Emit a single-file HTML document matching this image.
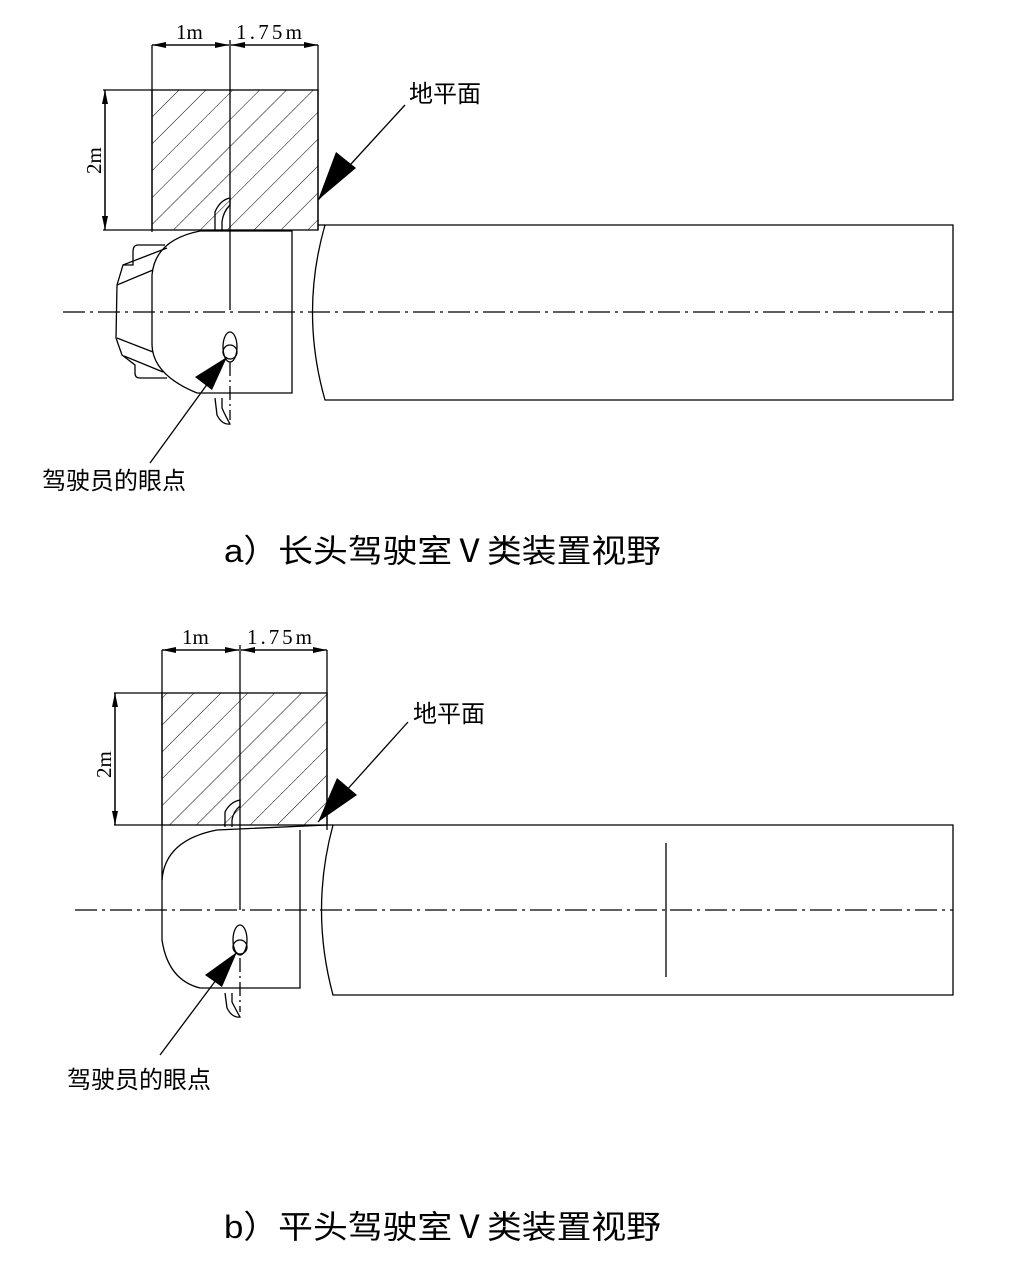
<!DOCTYPE html>
<html><head><meta charset="utf-8"><style>
html,body{margin:0;padding:0;background:#fff;}
svg{display:block;}
.t{font-family:"Liberation Serif","Noto Serif CJK SC",serif;}
.c{font-family:"Liberation Sans","Noto Sans CJK SC",sans-serif;}
</style></head><body>
<svg width="1018" height="1271" viewBox="0 0 1018 1271" xmlns="http://www.w3.org/2000/svg">
<defs>
<pattern id="h" patternUnits="userSpaceOnUse" width="19" height="19" patternTransform="rotate(45)">
<line x1="0" y1="0" x2="0" y2="19" stroke="#000" stroke-width="1"/>
</pattern>
<marker id="ar" markerWidth="14" markerHeight="6" refX="14" refY="3" orient="auto" markerUnits="userSpaceOnUse"><path d="M0,0 L14,3 L0,6 Z" fill="#000"/></marker>
</defs>
<g fill="none" stroke="#000" stroke-width="1.3">
<!-- ===== TOP ===== -->
<rect x="152" y="90" width="166" height="140" fill="url(#h)"/>
<line x1="152" y1="45" x2="152" y2="232"/>
<line x1="318" y1="45" x2="318" y2="230"/>
<line x1="230" y1="40" x2="230" y2="310"/>
<line x1="152" y1="45" x2="229" y2="45" marker-end="url(#ar)"/>
<line x1="229" y1="45" x2="152" y2="45" marker-end="url(#ar)"/>
<line x1="231" y1="45" x2="318" y2="45" marker-end="url(#ar)"/>
<line x1="318" y1="45" x2="231" y2="45" marker-end="url(#ar)"/>
<line x1="103" y1="90" x2="152" y2="90"/>
<line x1="103" y1="230" x2="152" y2="230"/>
<line x1="105" y1="90" x2="105" y2="230" marker-end="url(#ar)"/>
<line x1="105" y1="230" x2="105" y2="90" marker-end="url(#ar)"/>
<path d="M325,225 L953,225 L953,400 L325,400 Q300,312 325,225 Z"/>
<line x1="318" y1="225" x2="325" y2="225"/>
<path d="M200,231 L292,231 L292,393 L197,393 Q153,375 152,345 L152,275 Q155,240 200,231"/>
<path d="M165,245 L138,245 Q133,245 133,252 L133,265 L123,265 L117,285 L116,338 L122,355 L135,365 L135,373 Q135,378 140,378 L167,378"/>
<line x1="123" y1="265" x2="167" y2="248"/>
<line x1="117" y1="285" x2="153" y2="270"/>
<line x1="117" y1="338" x2="153" y2="352"/>
<line x1="124" y1="356" x2="163" y2="372"/>
<path d="M215,230 L215,212 Q220,200 230,198 L230,205 Q223,212 222,222 L222,230"/>
<path d="M215,398 L217,415 Q222,425 230,424 Q225,415 222,408 L222,398"/>
<ellipse cx="230" cy="347" rx="7" ry="15"/>
<circle cx="230" cy="352" r="7"/>
<line x1="230" y1="362" x2="230" y2="420" stroke-dasharray="14,4,2,4"/>
<line x1="63" y1="312" x2="953" y2="312" stroke-dasharray="22,5,3,5"/>
<line x1="405" y1="105" x2="318" y2="200"/>
<polygon points="318,200 336,152 356,168" fill="#000" stroke="none"/>
<line x1="150" y1="463" x2="227" y2="357"/>
<polygon points="227,357 212,390 195,377" fill="#000" stroke="none"/>

<!-- ===== BOTTOM ===== -->
<rect x="162" y="693" width="165" height="132" fill="url(#h)"/>
<line x1="162" y1="650" x2="162" y2="880"/>
<line x1="327" y1="650" x2="327" y2="830"/>
<line x1="240" y1="645" x2="240" y2="910"/>
<line x1="162" y1="650" x2="239" y2="650" marker-end="url(#ar)"/>
<line x1="239" y1="650" x2="162" y2="650" marker-end="url(#ar)"/>
<line x1="241" y1="650" x2="327" y2="650" marker-end="url(#ar)"/>
<line x1="327" y1="650" x2="241" y2="650" marker-end="url(#ar)"/>
<line x1="114" y1="693" x2="162" y2="693"/>
<line x1="114" y1="825" x2="162" y2="825"/>
<line x1="115" y1="693" x2="115" y2="825" marker-end="url(#ar)"/>
<line x1="115" y1="825" x2="115" y2="693" marker-end="url(#ar)"/>
<path d="M333,825 L953,825 L953,995 L333,995 Q310,910 333,825 Z"/>
<line x1="327" y1="825" x2="333" y2="825"/>
<path d="M327,825 L217,830 Q165,840 162,880 L162,940 Q168,980 200,988 L300,988 L300,830"/>
<path d="M225,827 L225,812 Q230,802 240,800 L240,806 Q233,812 232,820 L232,827"/>
<path d="M225,993 L227,1008 Q232,1018 240,1017 Q235,1008 232,1002 L232,993"/>
<ellipse cx="240" cy="940" rx="7" ry="15"/>
<circle cx="240" cy="947" r="7"/>
<line x1="240" y1="958" x2="240" y2="1012" stroke-dasharray="14,4,2,4"/>
<line x1="75" y1="910" x2="953" y2="910" stroke-dasharray="22,5,3,5"/>
<line x1="666" y1="843" x2="666" y2="977"/>
<line x1="408" y1="722" x2="318" y2="822"/>
<polygon points="318,822 337,778 357,795" fill="#000" stroke="none"/>
<line x1="160" y1="1055" x2="237" y2="952"/>
<polygon points="237,952 222,987 205,975" fill="#000" stroke="none"/>
</g>
<g fill="#000">
<text class="t" x="176" y="39" font-size="21">1m</text>
<text class="t" x="236" y="39" font-size="21" textLength="66">1.75m</text>
<text class="t" transform="translate(101,174) rotate(-90)" font-size="21">2m</text>
<text class="c" x="409" y="102" font-size="24">地平面</text>
<text class="c" x="42" y="489" font-size="24">驾驶员的眼点</text>
<text class="c" x="224" y="562" font-size="32" textLength="437" lengthAdjust="spacingAndGlyphs">a）长头驾驶室Ⅴ类装置视野</text>

<text class="t" x="182" y="644" font-size="21">1m</text>
<text class="t" x="247" y="644" font-size="21" textLength="65">1.75m</text>
<text class="t" transform="translate(111,778) rotate(-90)" font-size="21">2m</text>
<text class="c" x="413" y="722" font-size="24">地平面</text>
<text class="c" x="67" y="1088" font-size="24">驾驶员的眼点</text>
<text class="c" x="224" y="1238" font-size="32" textLength="437" lengthAdjust="spacingAndGlyphs">b）平头驾驶室Ⅴ类装置视野</text>
</g>
</svg>
</body></html>
